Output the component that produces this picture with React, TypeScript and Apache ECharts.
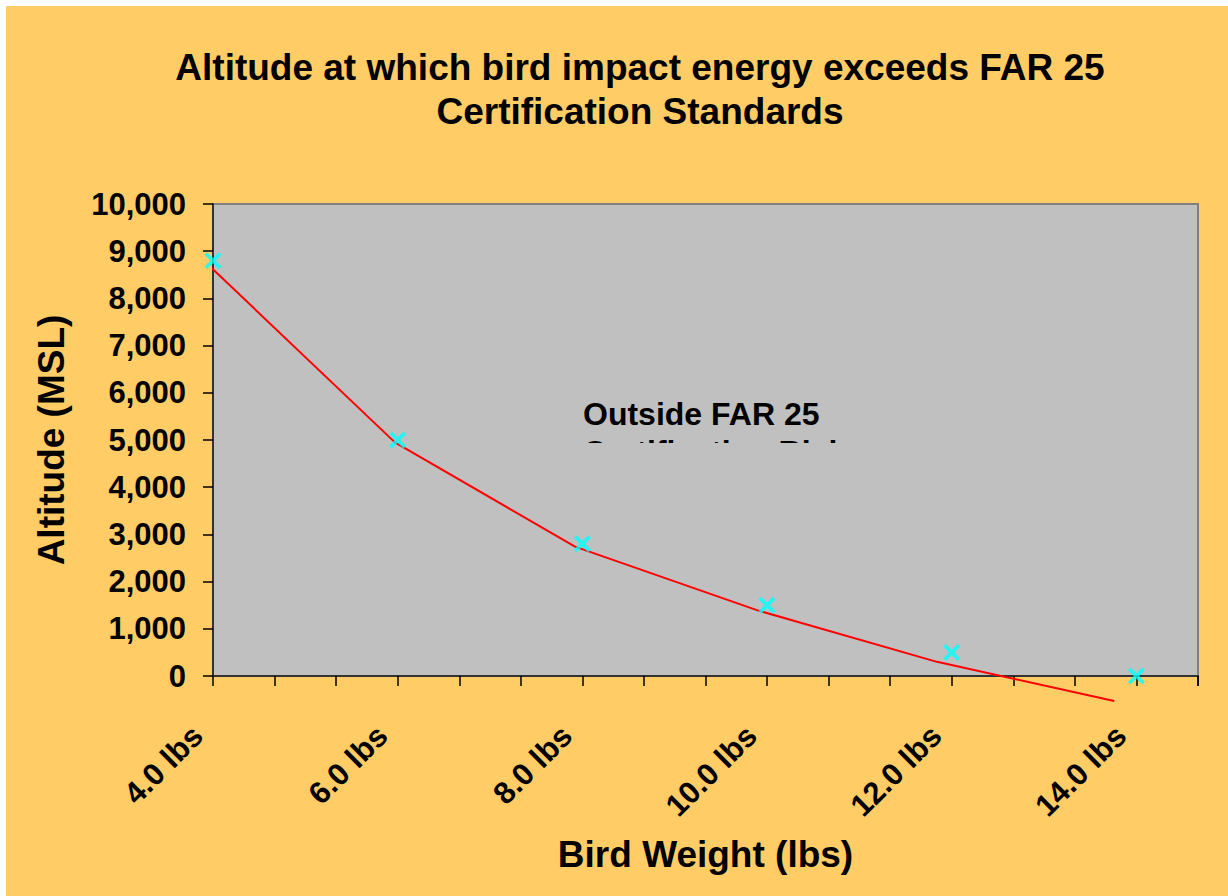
import React, { useEffect, useRef } from "react";
import * as echarts from "echarts";

const TITLE = "Altitude at which bird impact energy exceeds FAR 25\nCertification Standards";
const X_NAME = "Bird Weight (lbs)";
const Y_NAME = "Altitude (MSL)";
const NOTE = "Outside FAR 25\nCertification Risk";

// observed bird strike points
const WEIGHTS = [4, 6, 8, 10, 12, 14];
const ALTITUDES = [8800, 5000, 2800, 1500, 500, 0];

// red trend line vertices
const TREND_X = [3.95, 5.97, 7.92, 9.89, 11.84, 13.76];
const TREND_Y = [8710, 4950, 2740, 1395, 300, -530];

const X_MIN = 4;
const X_STEP = 2 / 3;
const X_MAX = 4 + 16 * (2 / 3);
const Y_MIN = 0;
const Y_MAX = 10000;
const Y_STEP = 1000;

const FONT = "'Liberation Sans', Arial, sans-serif";
const CROSS = "path://M0,1.6L1.6,0L5,3.4L8.4,0L10,1.6L6.6,5L10,8.4L8.4,10L5,6.6L1.6,10L0,8.4L3.4,5Z";

export default function App() {
  const ref = useRef<HTMLDivElement>(null);
  useEffect(() => {
    if (!ref.current) return;
    const chart = echarts.init(ref.current, undefined, { renderer: "svg" });
    chart.setOption({
      animation: false,
      backgroundColor: "#FFCC66",
      textStyle: { fontFamily: FONT },
      title: {
        text: TITLE,
        left: 629,
        top: 34,
        textAlign: "center",
        textStyle: { fontFamily: FONT, fontSize: 37, fontWeight: "bold", color: "#000", lineHeight: 44 },
      },
      grid: {
        left: 207,
        right: 30,
        top: 198,
        bottom: 220,
        show: true,
        backgroundColor: "#C0C0C0",
        borderColor: "#808080",
        borderWidth: 2,
        containLabel: false,
      },
      xAxis: {
        type: "value",
        min: X_MIN,
        max: X_MAX,
        interval: X_STEP,
        name: X_NAME,
        nameLocation: "middle",
        nameGap: 160,
        nameTextStyle: { fontFamily: FONT, fontSize: 37, fontWeight: "bold", color: "#000" },
        axisLine: { show: true, onZero: false, lineStyle: { color: "#333", width: 2 } },
        axisTick: { show: true, inside: false, length: 10, lineStyle: { color: "#000", width: 1.5 } },
        splitLine: { show: false },
        axisLabel: {
          rotate: 45,
          margin: 39,
          padding: [0, 22, 0, 0],
          fontFamily: FONT,
          fontSize: 31,
          fontWeight: "bold",
          color: "#000",
          showMaxLabel: true,
          showMinLabel: true,
          hideOverlap: false,
          formatter: (v: number) => {
            const r = Math.round(v);
            if (Math.abs(v - r) < 1e-6 && r % 2 === 0 && r <= 14) return r.toFixed(1) + " lbs";
            return "";
          },
        },
      },
      yAxis: {
        type: "value",
        min: Y_MIN,
        max: Y_MAX,
        interval: Y_STEP,
        name: Y_NAME,
        nameLocation: "middle",
        nameGap: 143,
        nameTextStyle: { fontFamily: FONT, fontSize: 37, fontWeight: "bold", color: "#000" },
        axisLine: { show: true, onZero: false, lineStyle: { color: "#333", width: 2 } },
        axisTick: { show: true, inside: false, length: 10, lineStyle: { color: "#000", width: 1.5 } },
        splitLine: { show: false },
        axisLabel: {
          margin: 27,
          fontFamily: FONT,
          fontSize: 31,
          fontWeight: "bold",
          color: "#000",
          formatter: (v: number) => v.toLocaleString("en-US"),
        },
      },
      graphic: [
        {
          type: "text",
          left: 577,
          top: 389,
          z: 50,
          style: {
            text: NOTE,
            font: `bold 32px ${FONT}`,
            fill: "#000",
            lineHeight: 38,
          },
        },
        {
          type: "rect",
          left: 570,
          top: 437,
          z: 60,
          shape: { width: 300, height: 40 },
          style: { fill: "#C0C0C0" },
        },
      ],
      series: [
        {
          type: "line",
          data: TREND_X.map((x, i) => [x, TREND_Y[i]]),
          symbol: "none",
          clip: false,
          z: 3,
          lineStyle: { color: "#FF0000", width: 2 },
        },
        {
          type: "scatter",
          data: WEIGHTS.map((x, i) => [x, ALTITUDES[i]]),
          symbol: CROSS,
          symbolSize: 17,
          clip: false,
          z: 4,
          itemStyle: { color: "#00FFFF" },
        },
      ],
    });
    return () => chart.dispose();
  }, []);
  return (
    <div
      ref={ref}
      style={{ position: "absolute", left: 6, top: 6, width: 1222, height: 890 }}
    />
  );
}
